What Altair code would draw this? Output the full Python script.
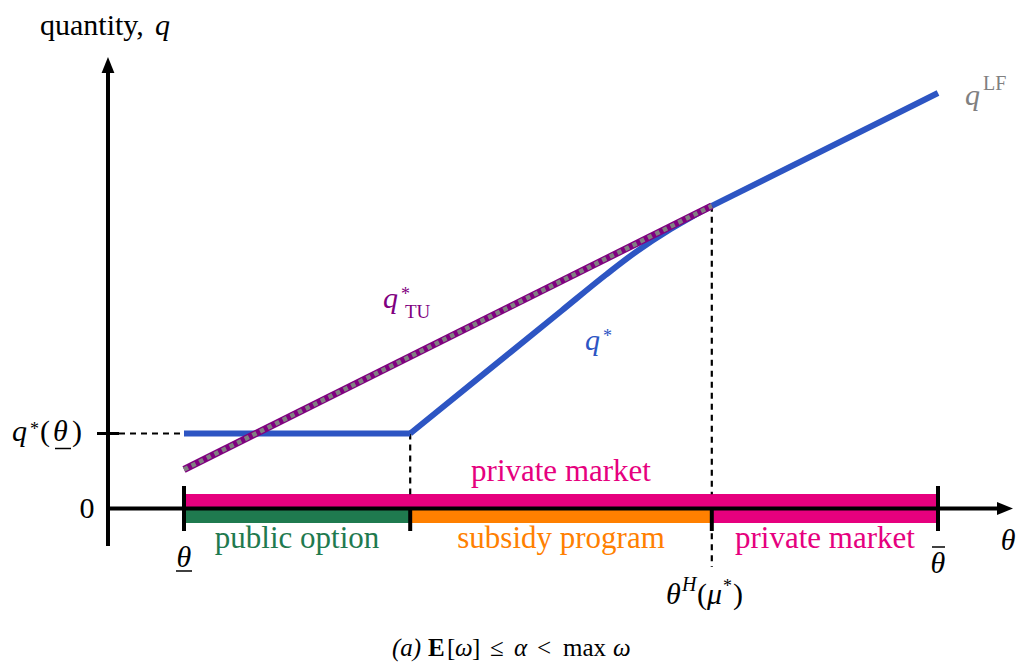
import altair as alt
import pandas as pd

# ---------------- values ----------------
# breakpoints on the theta axis
theta_low, theta_pub, theta_H, theta_bar = 0.0, 0.3, 0.7, 1.0
q_floor = 1.0                      # q*(theta_low)

# q* (blue): flat part, then rising curve that joins q^LF at theta_H
qstar_flat_theta = [0.0, 0.3]
qstar_flat_q = [1.0, 1.0]
qstar_curve_theta = [0.3, 0.4, 0.5, 0.56, 0.6, 0.645, 0.675, 0.7]
qstar_curve_q = [1.0, 1.815, 2.63, 3.12, 3.425, 3.723, 3.899, 4.035]

# q^LF (laissez-faire, coincides with q* above theta_H)
qlf_theta = [0.7, 1.0]
qlf_q = [4.035, 5.54]

# q*_TU (purple with grey dashes)
qtu_theta = [0.0, 0.7]
qtu_q = [0.52, 4.035]

# colours
BLUE = "#2d55c3"
PURPLE = "#800080"
GREY = "#808080"
MAGENTA = "#e6007e"
GREEN = "#1f7a4f"
ORANGE = "#ff8000"
BLACK = "#000000"
FONT = "Liberation Serif"

XS = alt.Scale(domain=[-0.23342, 1.10345], nice=False, zero=False)
YS = alt.Scale(domain=[-2.06, 6.6733], nice=False, zero=False)


def xy():
    return dict(x=alt.X("x:Q", scale=XS, axis=None),
                y=alt.Y("y:Q", scale=YS, axis=None))


# ---------------- bands ----------------
bands = pd.DataFrame({
    "x": [theta_low, theta_low, theta_pub, theta_H],
    "x2": [theta_bar, theta_pub, theta_H, theta_bar],
    "y": [0.0, -0.193, -0.193, -0.193],
    "y2": [0.193, 0.0, 0.0, 0.0],
    "c": [MAGENTA, GREEN, ORANGE, MAGENTA],
})
band_layer = alt.Chart(bands).mark_rect().encode(
    x=alt.X("x:Q", scale=XS, axis=None), x2="x2:Q",
    y=alt.Y("y:Q", scale=YS, axis=None), y2="y2:Q",
    color=alt.Color("c:N", scale=None))

# ---------------- rules ----------------
solid = pd.DataFrame([
    # x, x2, y, y2, width
    (-0.1008, 1.0809, 0.0, 0.0, 4),          # theta axis
    (-0.1008, -0.1008, -0.5, 5.8467, 4),     # q axis
    (-0.11538, -0.08621, q_floor, q_floor, 3),
    (theta_low, theta_low, 0.3, -0.3, 4),
    (theta_bar, theta_bar, 0.3, -0.3, 4),
    (theta_pub, theta_pub, 0.02, -0.3, 4),
    (theta_H, theta_H, 0.02, -0.3, 4),
    (-0.01061, 0.01061, -0.8333, -0.8333, 1.5),   # underline of theta
    (0.99204, 1.00928, -0.5133, -0.5133, 1.5),    # bar over theta
    (-0.17109, -0.14987, 0.80, 0.80, 1.5),        # underline in q*(theta)
], columns=["x", "x2", "y", "y2", "w"])
solid_layer = alt.Chart(solid).mark_rule(color=BLACK, strokeCap="butt").encode(
    x=alt.X("x:Q", scale=XS, axis=None), x2="x2:Q",
    y=alt.Y("y:Q", scale=YS, axis=None), y2="y2:Q",
    strokeWidth=alt.StrokeWidth("w:Q", scale=None))

dashed = pd.DataFrame([
    (-0.08621, theta_low, q_floor, q_floor),
    (theta_pub, theta_pub, q_floor, 0.19),
    (theta_H, theta_H, 4.035, 0.19),
    (theta_H, theta_H, -0.33, -0.78),
], columns=["x", "x2", "y", "y2"])
dashed_layer = alt.Chart(dashed).mark_rule(
    color=BLACK, strokeWidth=2.2, strokeDash=[6, 5]).encode(
    x=alt.X("x:Q", scale=XS, axis=None), x2="x2:Q",
    y=alt.Y("y:Q", scale=YS, axis=None), y2="y2:Q")

# arrow heads
xarrow = alt.Chart(pd.DataFrame({"x": [1.08886], "y": [0.0]})).mark_point(
    shape="M1,0L-1,-0.8L-1,0.8Z", size=256, filled=True, color=BLACK,
    opacity=1, strokeWidth=0).encode(**xy())
yarrow = alt.Chart(pd.DataFrame({"x": [-0.1008], "y": [5.9133]})).mark_point(
    shape="M0,-1L-0.8,1L0.8,1Z", size=256, filled=True, color=BLACK,
    opacity=1, strokeWidth=0).encode(**xy())

# ---------------- curves ----------------
flat = alt.Chart(pd.DataFrame({"x": qstar_flat_theta, "y": qstar_flat_q})).mark_line(
    color=BLUE, strokeWidth=6, strokeCap="butt").encode(**xy())
curve = alt.Chart(pd.DataFrame({"x": qstar_curve_theta, "y": qstar_curve_q})).mark_line(
    color=BLUE, strokeWidth=6, strokeCap="butt", interpolate="monotone").encode(**xy())
lf = alt.Chart(pd.DataFrame({"x": qlf_theta, "y": qlf_q})).mark_line(
    color=BLUE, strokeWidth=6, strokeCap="butt").encode(**xy())
tu_df = pd.DataFrame({"x": qtu_theta, "y": qtu_q})
tu_base = alt.Chart(tu_df).mark_line(color=PURPLE, strokeWidth=7,
                                     strokeCap="butt").encode(**xy())
tu_dash = alt.Chart(tu_df).mark_line(color=GREY, strokeWidth=4.5, strokeDash=[4.5, 4],
                                     strokeCap="butt").encode(**xy())

# ---------------- text ----------------
CAP_Y = -1.96
labels = pd.DataFrame([
    # text, x, y, size, colour, style, align
    ("quantity,", -0.19098, 6.3133, 30, BLACK, "normal", "left"),
    ("q", -0.03846, 6.3133, 30, BLACK, "italic", "left"),
    ("q", 1.03581, 5.38, 30, GREY, "italic", "left"),
    ("LF", 1.05968, 5.58, 20, GREY, "normal", "left"),
    ("q", 0.26393, 2.6733, 30, PURPLE, "italic", "left"),
    ("*", 0.28780, 2.78, 18, PURPLE, "normal", "left"),
    ("TU", 0.29310, 2.54, 19, PURPLE, "normal", "left"),
    ("q", 0.53183, 2.1133, 30, BLUE, "italic", "left"),
    ("*", 0.5557, 2.22, 18, BLUE, "normal", "left"),
    ("q", -0.22812, 0.90, 30, BLACK, "italic", "left"),
    ("*", -0.20424, 0.98, 18, BLACK, "normal", "left"),
    ("(", -0.19098, 0.90, 30, BLACK, "normal", "left"),
    ("θ", -0.17374, 0.90, 30, BLACK, "italic", "left"),
    (")", -0.14854, 0.90, 30, BLACK, "normal", "left"),
    ("0", -0.12865, -0.1267, 30, BLACK, "normal", "center"),
    ("θ", 0.0, -0.78, 30, BLACK, "italic", "center"),
    ("θ", 1.0, -0.86, 30, BLACK, "italic", "center"),
    ("θ", 1.09284, -0.5533, 30, BLACK, "italic", "center"),
    ("θ", 0.63926, -1.2733, 30, BLACK, "italic", "left"),
    ("H", 0.66048, -1.10, 20, BLACK, "italic", "left"),
    ("(", 0.68037, -1.2733, 30, BLACK, "normal", "left"),
    ("μ", 0.69363, -1.2733, 30, BLACK, "italic", "left"),
    ("*", 0.71485, -1.12, 18, BLACK, "normal", "left"),
    (")", 0.72812, -1.2733, 30, BLACK, "normal", "left"),
    ("private market", 0.5, 0.3667, 31, MAGENTA, "normal", "center"),
    ("public option", 0.15, -0.5267, 31, GREEN, "normal", "center"),
    ("subsidy program", 0.5, -0.5267, 31, ORANGE, "normal", "center"),
    ("private market", 0.85, -0.5267, 31, MAGENTA, "normal", "center"),
    # caption
    ("(a)", 0.27586, CAP_Y, 25, BLACK, "italic", "left"),
    ("E", 0.32361, CAP_Y, 25, BLACK, "bold", "left"),
    ("[", 0.34881, CAP_Y, 25, BLACK, "normal", "left"),
    ("ω", 0.35942, CAP_Y, 25, BLACK, "italic", "left"),
    ("]", 0.38196, CAP_Y, 25, BLACK, "normal", "left"),
    ("≤", 0.40584, CAP_Y, 25, BLACK, "normal", "left"),
    ("α", 0.43767, CAP_Y, 25, BLACK, "italic", "left"),
    ("<", 0.46817, CAP_Y, 25, BLACK, "normal", "left"),
    ("max", 0.50265, CAP_Y, 25, BLACK, "normal", "left"),
    ("ω", 0.56897, CAP_Y, 25, BLACK, "italic", "left"),
], columns=["t", "x", "y", "s", "c", "style", "align"])

text_layers = []
for (style, align), grp in labels.groupby(["style", "align"]):
    props = dict(font=FONT, align=align, baseline="alphabetic")
    if style == "italic":
        props["fontStyle"] = "italic"
    if style == "bold":
        props["fontWeight"] = "bold"
    text_layers.append(
        alt.Chart(grp.reset_index(drop=True)).mark_text(**props).encode(
            x=alt.X("x:Q", scale=XS, axis=None),
            y=alt.Y("y:Q", scale=YS, axis=None),
            text="t:N",
            size=alt.Size("s:Q", scale=None),
            color=alt.Color("c:N", scale=None)))

chart = alt.layer(
    band_layer, dashed_layer, solid_layer, xarrow, yarrow,
    flat, curve, lf, tu_base, tu_dash, *text_layers
).properties(
    width=1008, height=655, padding=0,
    autosize=alt.AutoSizeParams(type="none"),
    background="white",
).configure_view(stroke=None)

chart.save("out.html", embed_options={"renderer": "svg", "actions": False})
